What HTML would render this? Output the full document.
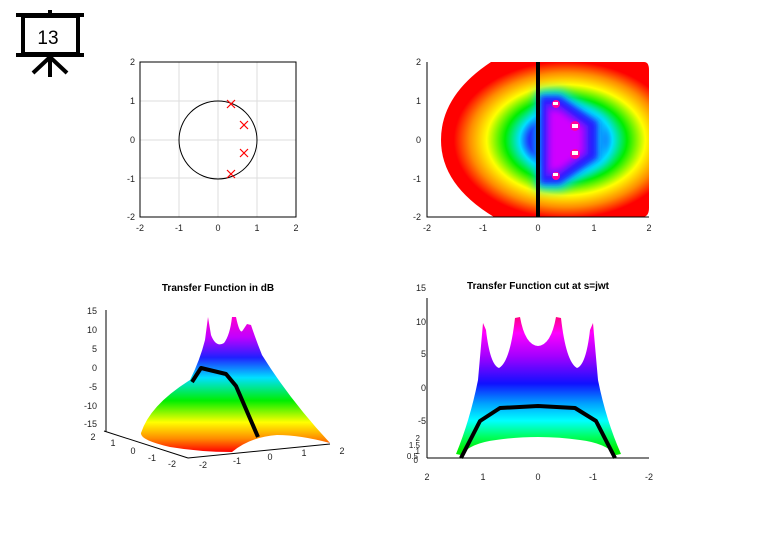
<!DOCTYPE html>
<html><head><meta charset="utf-8"><style>
body{margin:0;background:#fff;}
svg{display:block;font-family:"Liberation Sans",sans-serif;}
</style></head><body>
<svg width="759" height="548" viewBox="0 0 759 548">
<defs>
<radialGradient id="rg" gradientUnits="userSpaceOnUse" cx="566" cy="140" r="122" gradientTransform="translate(566 140) scale(1 0.698) translate(-566 -140)">
<stop offset="0" stop-color="#2020ff"/>
<stop offset="0.3" stop-color="#2020ff"/>
<stop offset="0.38" stop-color="#00e0ff"/>
<stop offset="0.5" stop-color="#00ee00"/>
<stop offset="0.65" stop-color="#ffff00"/>
<stop offset="0.79" stop-color="#ff8c00"/>
<stop offset="0.92" stop-color="#ff0000"/>
<stop offset="1" stop-color="#ff0000"/>
</radialGradient>
<filter id="bl" x="-30%" y="-30%" width="160%" height="160%"><feGaussianBlur stdDeviation="5"/></filter>
<filter id="bl2" x="-30%" y="-30%" width="160%" height="160%"><feGaussianBlur stdDeviation="3"/></filter>
<linearGradient id="g3" x1="0" y1="317" x2="0" y2="452" gradientUnits="userSpaceOnUse">
<stop offset="0" stop-color="#ff00d0"/>
<stop offset="0.15" stop-color="#c000ff"/>
<stop offset="0.3" stop-color="#2020ff"/>
<stop offset="0.45" stop-color="#00e0ff"/>
<stop offset="0.62" stop-color="#00ee00"/>
<stop offset="0.78" stop-color="#ffff00"/>
<stop offset="0.9" stop-color="#ff8c00"/>
<stop offset="1" stop-color="#ff0000"/>
</linearGradient>
<linearGradient id="g4" x1="0" y1="317" x2="0" y2="450" gradientUnits="userSpaceOnUse">
<stop offset="0" stop-color="#ff0080"/>
<stop offset="0.12" stop-color="#ff00ff"/>
<stop offset="0.3" stop-color="#a000ff"/>
<stop offset="0.5" stop-color="#1010ff"/>
<stop offset="0.65" stop-color="#00a0ff"/>
<stop offset="0.78" stop-color="#00ffff"/>
<stop offset="0.9" stop-color="#00ff60"/>
<stop offset="1" stop-color="#00ee00"/>
</linearGradient>
<clipPath id="cp"><path d="M491 62 L644 62 Q649 62 649 70 L649 208 Q649 217 642 217 L494 217 Q441 185 441 140 Q441 95 491 62 Z"/></clipPath>
</defs>

<!-- icon -->
<g stroke="#000" fill="none">
<rect x="23" y="16" width="55" height="38" stroke-width="4"/>
<line x1="16" y1="15" x2="84" y2="15" stroke-width="4"/>
<line x1="16" y1="55" x2="84" y2="55" stroke-width="4"/>
<line x1="50" y1="10" x2="50" y2="15" stroke-width="4"/>
<line x1="50" y1="57" x2="50" y2="77" stroke-width="4"/>
<line x1="49" y1="58" x2="33" y2="73" stroke-width="4"/>
<line x1="51" y1="58" x2="67" y2="73" stroke-width="4"/>
</g>
<text x="48" y="44" font-size="19" text-anchor="middle">13</text>

<!-- plot 1 -->
<g stroke="#ddd" stroke-width="1">
<line x1="179" y1="62" x2="179" y2="217"/><line x1="218" y1="62" x2="218" y2="217"/><line x1="257" y1="62" x2="257" y2="217"/>
<line x1="140" y1="101" x2="296" y2="101"/><line x1="140" y1="140" x2="296" y2="140"/><line x1="140" y1="178" x2="296" y2="178"/>
</g>
<rect x="140" y="62" width="156" height="155" fill="none" stroke="#000" stroke-width="1"/>
<circle cx="218" cy="140" r="39" fill="none" stroke="#000" stroke-width="1"/>
<g stroke="#f00" stroke-width="1.2">
<path d="M227 100l8 8M235 100l-8 8"/><path d="M240 121l8 8M248 121l-8 8"/>
<path d="M240 149l8 8M248 149l-8 8"/><path d="M227 170l8 8M235 170l-8 8"/>
</g>
<g font-size="9" fill="#222" text-anchor="end">
<text x="135" y="65">2</text><text x="135" y="104">1</text><text x="135" y="143">0</text><text x="135" y="182">-1</text><text x="135" y="220">-2</text>
</g>
<g font-size="9" fill="#222" text-anchor="middle">
<text x="140" y="231">-2</text><text x="179" y="231">-1</text><text x="218" y="231">0</text><text x="257" y="231">1</text><text x="296" y="231">2</text>
</g>

<!-- plot 2 -->
<g clip-path="url(#cp)">
<rect x="427" y="62" width="222" height="155" fill="url(#rg)"/>
<path d="M536 90 L562 90 L605 120 L605 160 L562 190 L536 190 Z" fill="#00d8ff" filter="url(#bl)"/>
<path d="M540 96 L560 96 L598 122 L598 158 L560 184 L540 184 Z" fill="#2020ff" filter="url(#bl2)"/>
<path d="M546 104 L558 104 L588 126 L588 154 L558 176 L546 176 Z" fill="#8010ff" filter="url(#bl2)"/>
<path d="M550 110 L560 112 L582 128 L582 152 L560 168 L550 170 Z" fill="#d000ff" filter="url(#bl2)"/>
</g>
<g fill="#ff00a0"><circle cx="556" cy="104" r="4"/><circle cx="575" cy="126" r="5"/><circle cx="575" cy="154" r="5"/><circle cx="556" cy="176" r="4"/></g>
<g fill="#fff"><rect x="553" y="102" width="5" height="3"/><rect x="572" y="124" width="6" height="4"/><rect x="572" y="151" width="6" height="4"/><rect x="553" y="173" width="5" height="3"/></g>
<path d="M427 62 V217 H649" fill="none" stroke="#000" stroke-width="1"/>
<line x1="538" y1="62" x2="538" y2="217" stroke="#000" stroke-width="4"/>
<g font-size="9" fill="#222" text-anchor="end">
<text x="421" y="65">2</text><text x="421" y="104">1</text><text x="421" y="143">0</text><text x="421" y="182">-1</text><text x="421" y="220">-2</text>
</g>
<g font-size="9" fill="#222" text-anchor="middle">
<text x="427" y="231">-2</text><text x="483" y="231">-1</text><text x="538" y="231">0</text><text x="594" y="231">1</text><text x="649" y="231">2</text>
</g>

<!-- plot 3 -->
<text x="218" y="291" font-size="10" font-weight="bold" text-anchor="middle">Transfer Function in dB</text>
<path d="M141 433 Q150 405 190 380 Q200 360 205 340 L208 317 L211 335 Q216 348 224 343 Q230 335 232 317 L236 317 Q240 336 243 330 L247 324 L251 325 Q256 340 262 355 Q290 400 330 443 Q300 435 277 435 Q250 437 232 452 Q200 452 170 447 Q140 440 141 433 Z" fill="url(#g3)"/>
<polyline points="192,382 201,368 226,374 236,386 258,437" fill="none" stroke="#000" stroke-width="4" stroke-linejoin="round"/>
<g stroke="#000" stroke-width="1" fill="none">
<line x1="106" y1="310" x2="106" y2="432"/>
<line x1="104" y1="431" x2="188" y2="458"/>
<line x1="188" y1="458" x2="330" y2="444"/>
</g>
<g font-size="9" fill="#222" text-anchor="end">
<text x="97" y="314">15</text><text x="97" y="333">10</text><text x="97" y="352">5</text><text x="97" y="371">0</text><text x="97" y="390">-5</text><text x="97" y="409">-10</text><text x="97" y="427">-15</text>
</g>
<g font-size="9" fill="#222" text-anchor="middle">
<text x="93" y="440">2</text><text x="113" y="446">1</text><text x="133" y="454">0</text><text x="152" y="461">-1</text><text x="172" y="467">-2</text>
<text x="203" y="468">-2</text><text x="237" y="464">-1</text><text x="270" y="460">0</text><text x="304" y="456">1</text><text x="342" y="454">2</text>
</g>

<!-- plot 4 -->
<text x="538" y="289" font-size="10" font-weight="bold" text-anchor="middle">Transfer Function cut at s=jwt</text>
<path d="M456 454 Q470 420 478 380 L483 323 L486 330 Q490 365 499 368 Q510 362 515 318 L520 317 Q525 345 538 346 Q551 345 556 317 L561 318 Q566 362 577 368 Q586 365 590 330 L593 323 L598 380 Q606 420 621 454 L616 455 Q605 443 580 440 Q560 437 538 437 Q516 437 496 440 Q471 443 461 455 Z" fill="url(#g4)"/>
<polyline points="461,458 480,421 500,408 538,406 575,408 596,421 615,458" fill="none" stroke="#000" stroke-width="4" stroke-linejoin="round"/>
<g stroke="#000" stroke-width="1" fill="none">
<line x1="427" y1="298" x2="427" y2="458"/>
<line x1="427" y1="458" x2="649" y2="458"/>
</g>
<g font-size="9" fill="#222" text-anchor="end">
<text x="426" y="291">15</text><text x="426" y="325">10</text><text x="426" y="357">5</text><text x="426" y="391">0</text><text x="426" y="424">-5</text>
<text x="420" y="441" font-size="8">2</text><text x="420" y="448" font-size="8">1.5</text><text x="420" y="454" font-size="8">1</text><text x="418" y="459" font-size="8">0.5</text><text x="418" y="463" font-size="8">0</text>
</g>
<g font-size="9" fill="#222" text-anchor="middle">
<text x="427" y="480">2</text><text x="483" y="480">1</text><text x="538" y="480">0</text><text x="593" y="480">-1</text><text x="649" y="480">-2</text>
</g>
</svg>
</body></html>
